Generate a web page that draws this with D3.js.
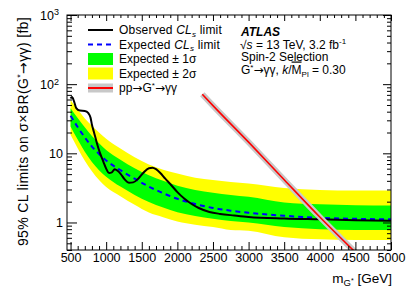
<!DOCTYPE html>
<html><head><meta charset="utf-8">
<script src="https://cdn.jsdelivr.net/npm/d3@7"></script>
<style>body{margin:0;background:#fff} svg text{font-family:"Liberation Sans",Arial,Helvetica,sans-serif;fill:#000} .sym{font-family:"DejaVu Sans",sans-serif}</style>
</head><body><svg id="c" width="415" height="298"></svg>
<script>
// ---- data ----
const expMass  = [500,600,700,800,900,1000,1200,1400,1600,1800,2000,2250,2500,2750,3000,3500,4000,4500,5000];
const expected = [35,24,17,12.5,9.8,7.9,5.7,4.3,3.3,2.65,2.2,1.85,1.62,1.48,1.38,1.25,1.17,1.13,1.11];
const plus1    = [45,32.5,23.8,17.8,14,11.2,8.1,6.1,4.8,4.0,3.4,2.96,2.7,2.5,2.35,1.95,1.83,1.78,1.76];
const minus1   = [24.5,15.8,10.5,7.5,5.7,4.6,3.3,2.5,1.98,1.64,1.41,1.24,1.13,1.05,1.0,0.86,0.8,0.78,0.78];
const plus2    = [59,43,32,25,20,16.2,11.7,8.8,6.9,5.8,5.1,4.45,4.1,3.85,3.65,3.15,2.95,2.9,2.9];
const minus2   = [18.5,11.8,7.8,5.5,4.1,3.25,2.4,1.8,1.39,1.19,1.03,0.93,0.86,0.78,0.76,0.61,0.57,0.56,0.56];

const obsMass  = [500,520,550,580,630,700,750,780,800,830,870,910,960,1000,1040,1080,1120,1160,1200,1260,1320,1380,1450,1520,1600,1650,1700,1760,1830,1900,2000,2100,2200,2300,2450,2600,2800,3000,3500,4000,4500,5000];
const observed = [62,65,56,45,41.5,41,38,33,26,20,14,10.3,7.6,6.0,5.2,5.3,5.9,5.6,5.1,4.2,3.75,3.8,4.3,5.2,6.1,6.2,5.9,5.2,4.3,3.6,2.75,2.2,1.85,1.62,1.42,1.33,1.26,1.2,1.14,1.11,1.08,1.06];

const thMass   = [2350,2500,3000,3500,4000,4500];
const theory   = [71.5,49,14.5,4.15,1.2,0.37];

const xTickValues = [500,1000,1500,2000,2500,3000,3500,4000,4500,5000];
const xMinorValues = d3.range(500,5001,100).filter(v=>v%500!==0);
const yTickValues = [1,10,100,1000];
const yTickLabels = ["1","10","10|2","10|3"];
const yMinorValues = [0.4,0.5,0.6,0.7,0.8,0.9,2,3,4,5,6,7,8,9,20,30,40,50,60,70,80,90,200,300,400,500,600,700,800,900];

const legendLabels = ["Observed","Expected","Expected ± 1σ","Expected ± 2σ","pp→G*→γγ"];

// ---- drawing ----
const svg = d3.select("#c");
const L=67,R=391,T=15,B=250;
const x = d3.scaleLinear().domain([450,5000]).range([L,R]);
const y = d3.scaleLog().domain([0.4,1000]).range([B,T]);
const FF = '"Liberation Sans",Arial,Helvetica,sans-serif';

svg.append("defs").append("clipPath").attr("id","clip")
  .append("rect").attr("x",L).attr("y",T).attr("width",R-L).attr("height",B-T);

const g = svg.append("g").attr("clip-path","url(#clip)");
const band = (lo,hi)=>d3.area().x((d,i)=>x(expMass[i])).y0((d,i)=>y(lo[i])).y1((d,i)=>y(hi[i])).curve(d3.curveMonotoneX);
g.append("path").datum(expMass).attr("d",band(minus2,plus2)).attr("fill","#ffff00");
g.append("path").datum(expMass).attr("d",band(minus1,plus1)).attr("fill","#00ff00");

const ln = (xs,ys,curve)=>d3.line().x((d,i)=>x(xs[i])).y((d,i)=>y(ys[i])).curve(curve);
g.append("path").datum(expMass).attr("d",ln(expMass,expected,d3.curveMonotoneX))
  .attr("fill","none").attr("stroke","#0000ff").attr("stroke-width",2).attr("stroke-dasharray","5,4");
g.append("path").datum(obsMass).attr("d",ln(obsMass,observed,d3.curveMonotoneX))
  .attr("fill","none").attr("stroke","#000").attr("stroke-width",2);
g.append("path").datum(thMass).attr("d",ln(thMass,theory,d3.curveMonotoneX))
  .attr("fill","none").attr("stroke","#c8c8c8").attr("stroke-width",6);
g.append("path").datum(thMass).attr("d",ln(thMass,theory,d3.curveMonotoneX))
  .attr("fill","none").attr("stroke","#ff0000").attr("stroke-width",1.6);

// axes
function styleAxis(sel){ sel.select(".domain").remove(); sel.selectAll("line").attr("stroke","#000"); sel.attr("font-family",FF).attr("font-size",12.5); }
svg.append("g").attr("transform",`translate(0,${B})`)
  .call(d3.axisBottom(x).tickValues(xTickValues).tickSize(-8).tickPadding(3).tickFormat(d3.format("d"))).call(styleAxis);
svg.append("g").attr("transform",`translate(0,${B})`)
  .call(d3.axisBottom(x).tickValues(xMinorValues).tickSize(-4).tickFormat("")).call(styleAxis);
svg.append("g").attr("transform",`translate(0,${T})`)
  .call(d3.axisTop(x).tickValues(xTickValues).tickSize(-6).tickFormat("")).call(styleAxis);
svg.append("g").attr("transform",`translate(0,${T})`)
  .call(d3.axisTop(x).tickValues(xMinorValues).tickSize(-3).tickFormat("")).call(styleAxis);

const yl = svg.append("g").attr("transform",`translate(${L},0)`)
  .call(d3.axisLeft(y).tickValues(yTickValues).tickSize(-10).tickPadding(4).tickFormat((d,i)=>yTickLabels[i])).call(styleAxis);
yl.selectAll("text").each(function(d,i){
  const parts = yTickLabels[i].split("|");
  const t = d3.select(this).text(parts[0]);
  if(parts[1]){ t.attr("dx","-4"); t.append("tspan").attr("dy","-0.45em").attr("font-size",9).text(parts[1]); }
});
svg.append("g").attr("transform",`translate(${L},0)`)
  .call(d3.axisLeft(y).tickValues(yMinorValues).tickSize(-5).tickFormat("")).call(styleAxis);
svg.append("g").attr("transform",`translate(${R},0)`)
  .call(d3.axisRight(y).tickValues(yTickValues).tickSize(-8).tickFormat("")).call(styleAxis);
svg.append("g").attr("transform",`translate(${R},0)`)
  .call(d3.axisRight(y).tickValues(yMinorValues).tickSize(-4).tickFormat("")).call(styleAxis);

svg.append("rect").attr("x",L).attr("y",T).attr("width",R-L).attr("height",B-T)
  .attr("fill","none").attr("stroke","#000").attr("stroke-width",1);

// axis titles
const xt = svg.append("text").attr("x",392).attr("y",283).attr("text-anchor","end").attr("font-size",13.5);
xt.append("tspan").text("m");
xt.append("tspan").attr("dy",3).attr("font-size",9.5).text("G");
xt.append("tspan").attr("dy",-3).attr("font-size",7).text("*");
xt.append("tspan").attr("dy",0).text(" [GeV]");

const yt = svg.append("text").attr("transform","translate(28,17) rotate(-90)").attr("text-anchor","end").attr("font-size",14).attr("letter-spacing",0.35);
yt.append("tspan").text("95% CL limits on σ×BR(G");
yt.append("tspan").attr("dy",-5).attr("font-size",9).text("*");
yt.append("tspan").attr("dy",5).attr("class","sym").text("→");
yt.append("tspan").text("γγ) [fb]");

// legend
const lx0=88, lx1=113, ltx=119, ly0=30, ldy=14.5;
const lg = svg.append("g").attr("font-size",12);
lg.append("line").attr("x1",lx0).attr("x2",lx1).attr("y1",ly0).attr("y2",ly0).attr("stroke","#000").attr("stroke-width",2);
lg.append("line").attr("x1",lx0).attr("x2",lx1).attr("y1",ly0+ldy).attr("y2",ly0+ldy).attr("stroke","#0000ff").attr("stroke-width",2).attr("stroke-dasharray","5,4");
lg.append("rect").attr("x",lx0).attr("y",ly0+2*ldy-6).attr("width",lx1-lx0).attr("height",12).attr("fill","#00ff00");
lg.append("rect").attr("x",lx0).attr("y",ly0+3*ldy-6).attr("width",lx1-lx0).attr("height",12).attr("fill","#ffff00");
lg.append("rect").attr("x",lx0).attr("y",ly0+4*ldy-4.5).attr("width",lx1-lx0).attr("height",9).attr("fill","#c8c8c8");
lg.append("line").attr("x1",lx0).attr("x2",lx1).attr("y1",ly0+4*ldy).attr("y2",ly0+4*ldy).attr("stroke","#ff0000").attr("stroke-width",2);
function clsText(i,word){
  const t = lg.append("text").attr("x",ltx).attr("y",ly0+i*ldy).attr("dy","0.36em").attr("letter-spacing",0.2);
  t.append("tspan").text(word+" ");
  t.append("tspan").attr("font-style","italic").text("CL");
  t.append("tspan").attr("font-style","italic").attr("font-size",8).attr("dy",2.5).text("s");
  t.append("tspan").attr("dy",-2.5).text(" limit");
}
clsText(0,legendLabels[0]);
clsText(1,legendLabels[1]);
[2,3].forEach(i=>lg.append("text").attr("x",ltx).attr("y",ly0+i*ldy).attr("dy","0.36em").text(legendLabels[i]));
const lt4 = lg.append("text").attr("x",ltx).attr("y",ly0+4*ldy).attr("dy","0.36em");
lt4.append("tspan").text("pp");
lt4.append("tspan").attr("class","sym").text("→");
lt4.append("tspan").text("G");
lt4.append("tspan").attr("dy",-4).attr("font-size",8).text("*");
lt4.append("tspan").attr("dy",4).attr("class","sym").text("→");
lt4.append("tspan").text("γγ");

// ATLAS label
const ax = 241;
svg.append("text").attr("x",ax).attr("y",36).attr("font-size",12).attr("font-weight","bold").attr("font-style","italic").text("ATLAS");
const a2 = svg.append("text").attr("x",ax-1).attr("y",48.5).attr("font-size",12);
a2.append("tspan").text("√");
a2.append("tspan").attr("font-style","italic").text("s");
a2.append("tspan").text(" = 13 TeV, 3.2 fb");
a2.append("tspan").attr("dy",-5).attr("font-size",8).text("-1");
svg.append("text").attr("x",ax).attr("y",61).attr("font-size",12).text("Spin-2 Selection");
const a4 = svg.append("text").attr("x",ax).attr("y",73.5).attr("font-size",12);
a4.append("tspan").text("G");
a4.append("tspan").attr("dy",-4).attr("font-size",8).text("*");
a4.append("tspan").attr("dy",4).attr("class","sym").text("→");
a4.append("tspan").text("γγ, ");
a4.append("tspan").attr("font-style","italic").text("k");
a4.append("tspan").text("/");
a4.append("tspan").style("text-decoration","overline").text("M");
a4.append("tspan").attr("dy",3).attr("font-size",8).text("Pl");
a4.append("tspan").attr("dy",-3).text(" = 0.30");
</script></body></html>
